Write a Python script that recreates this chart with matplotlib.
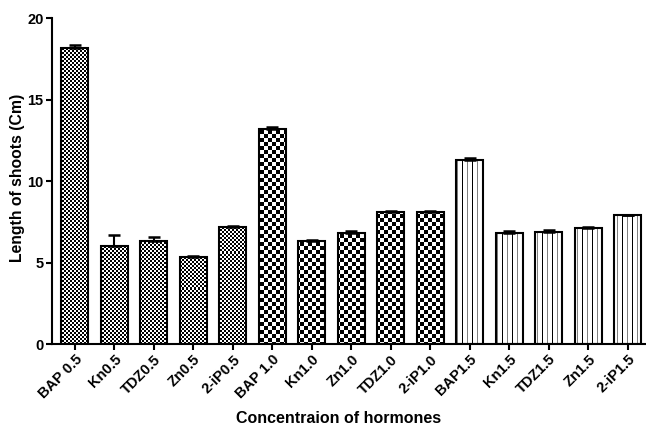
import numpy as np
import matplotlib
matplotlib.use("Agg")
import matplotlib.pyplot as plt

plt.rcParams['font.family'] = ['Liberation Sans', 'DejaVu Sans']
plt.rcParams['font.weight'] = 'bold'

# Shoot length per hormone treatment
labels = ['BAP 0.5', 'Kn0.5', 'TDZ0.5', 'Zn0.5', '2-iP0.5',
          'BAP 1.0', 'Kn1.0', 'Zn1.0', 'TDZ1.0', '2-iP1.0',
          'BAP1.5', 'Kn1.5', 'TDZ1.5', 'Zn1.5', '2-iP1.5']
means = [18.2, 6.0, 6.35, 5.35, 7.2,
         13.2, 6.3, 6.8, 8.1, 8.1,
         11.3, 6.85, 6.9, 7.1, 7.9]
errors = [0.2, 0.7, 0.2, 0.05, 0.05,
          0.15, 0.1, 0.15, 0.1, 0.08,
          0.12, 0.1, 0.08, 0.08, 0.05]
# pattern per concentration group
patterns = ['fine'] * 5 + ['coarse'] * 5 + ['stripes'] * 5

W, H, DPI = 646, 430, 100
fig = plt.figure(figsize=(W / DPI, H / DPI), dpi=DPI)
ax = fig.add_axes([52 / W, 1 - 344 / H, 1 - 52 / W, (344 - 18.5) / H])

xmin, xmax = -0.58, 14.46
ymin, ymax = 0, 20
ax_w = int(round(W - 52))
ax_h = int(round(344 - 18.5))

# pixel textures covering the whole axes, clipped to each bar later
yy, xx = np.mgrid[0:ax_h, 0:ax_w]
textures = {
    'fine': ((xx // 2 + yy // 2) % 2).astype(float),
    'coarse': ((xx // 4 + yy // 4) % 2).astype(float),
}
stripe = np.ones((ax_h, ax_w))
stripe[:, (xx[0] % 10) == 0] = 0.0
stripe[:, (xx[0] % 10) == 5] = 0.5
textures['stripes'] = stripe

x = np.arange(len(labels))
bars = ax.bar(x, means, width=0.68, facecolor='none', edgecolor='black',
              linewidth=1.5, zorder=3)
for b, p in zip(bars, patterns):
    im = ax.imshow(textures[p], cmap='gray', vmin=0, vmax=1,
                   extent=(xmin, xmax, ymin, ymax), aspect='auto',
                   interpolation='nearest', zorder=2)
    im.set_clip_path(b)

ax.errorbar(x, means, yerr=[np.zeros(len(means)), errors], fmt='none',
            ecolor='black', elinewidth=1.5, capsize=4.5, capthick=1.8, zorder=4)

ax.set_xlim(xmin, xmax)
ax.set_ylim(ymin, ymax)
ax.set_yticks([0, 5, 10, 15, 20])
ax.set_xticks(x)
ax.set_xticklabels(labels, rotation=45, ha='right', rotation_mode='anchor')
ax.tick_params(axis='both', direction='out', length=4, width=1.5,
               labelsize=10.5, pad=2)
for s in ['top', 'right']:
    ax.spines[s].set_visible(False)
for s in ['left', 'bottom']:
    ax.spines[s].set_linewidth(1.5)

ax.set_ylabel('Length of shoots (Cm)', fontsize=11.3, fontweight='bold')
ax.set_xlabel('Concentraion of hormones', fontsize=11.5, fontweight='bold')
ax.yaxis.set_label_coords(-0.045, 0.51)
ax.xaxis.set_label_coords(0.483, -0.205)

fig.savefig('out.png', dpi=DPI)
